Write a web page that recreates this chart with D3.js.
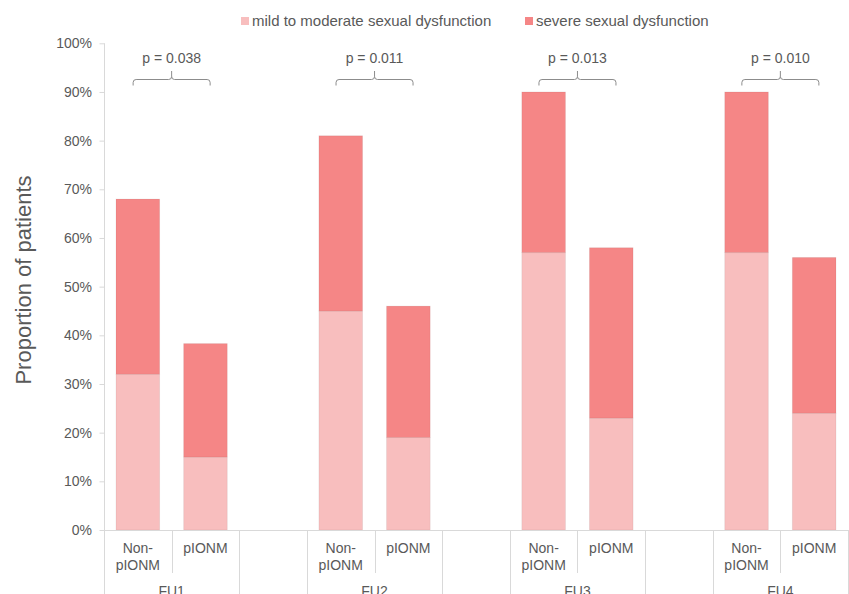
<!DOCTYPE html>
<html>
<head>
<meta charset="utf-8">
<script src="https://cdn.jsdelivr.net/npm/d3@7"></script>
<style>
  html, body { margin: 0; padding: 0; background: #fff; }
  svg { display: block; font-family: "Liberation Sans", Arial, sans-serif; }
</style>
</head>
<body>
<svg id="chart" width="849" height="594"></svg>
<script>
// ---- data ----
const groups = ["FU1", "FU2", "FU3", "FU4"];
const arms = ["Non-pIONM", "pIONM"];
const armLabelLines = [["Non-", "pIONM"], ["pIONM"]];
const mildValues   = [32, 15, 45, 19, 57, 23, 57, 24];   // mild to moderate (%)
const severeValues = [36, 23.3, 36, 27, 33, 35, 33, 32]; // severe (%)
const pValues = ["p = 0.038", "p = 0.011", "p = 0.013", "p = 0.010"];
const seriesNames = ["mild to moderate sexual dysfunction", "severe sexual dysfunction"];
const yTicks = [0, 10, 20, 30, 40, 50, 60, 70, 80, 90, 100];

// ---- styles ----
const colors = ["#F8BEBE", "#F58686"];
const textColor = "#595959";
const axisColor = "#D9D9D9";

const svg = d3.select("#chart");

// slots: group categories, with an empty slot between groups
const slots = [];
groups.forEach((g, gi) => {
  arms.forEach((a, ai) => slots.push({ key: g + "|" + a, group: g, gi, ai }));
  if (gi < groups.length - 1) slots.push({ key: "gap" + gi, group: null, gi, ai: -1 });
});

const x = d3.scaleBand().domain(slots.map(s => s.key)).range([104, 848]).padding(0);
const y = d3.scaleLinear().domain([0, 100]).range([530, 43.3]);
const barW = x.bandwidth() * 0.645;

// rows of data
const rows = [];
groups.forEach((g, gi) => arms.forEach((a, ai) => {
  const i = gi * arms.length + ai;
  rows.push({ key: g + "|" + a, group: g, arm: a, mild: mildValues[i], severe: severeValues[i] });
}));
const stacked = d3.stack().keys(["mild", "severe"])(rows);

// bars
stacked.forEach((layer, li) => {
  svg.append("g").selectAll("rect").data(layer).join("rect")
    .attr("x", d => x(d.data.key) + (x.bandwidth() - barW) / 2)
    .attr("width", barW)
    .attr("y", d => y(d[1]))
    .attr("height", d => y(d[0]) - y(d[1]))
    .attr("fill", colors[li])
    .attr("stroke", "rgba(0,0,0,0.06)")
    .attr("stroke-width", 1);
});

// y axis
const yAxis = svg.append("g").attr("transform", "translate(104,0)")
  .call(d3.axisLeft(y).tickValues(yTicks).tickFormat(d => d + "%").tickSize(5).tickPadding(7));
yAxis.select(".domain").attr("stroke", axisColor).attr("d", "M0.5," + y(100) + "V594");
yAxis.selectAll(".tick line").attr("stroke", axisColor).attr("x1", 0.5).attr("x2", -4.5);
yAxis.selectAll(".tick text").attr("fill", textColor).style("font-size", "14px")
  .style("font-family", "'Liberation Sans', Arial, sans-serif");

// x axis baseline
svg.append("line").attr("x1", 104).attr("x2", 849).attr("y1", 530.5).attr("y2", 530.5)
  .attr("stroke", axisColor);

// separators
const bounds = [];
for (let k = 1; k <= slots.length; k++) {
  const left = slots[k - 1], right = slots[k];
  const xx = k < slots.length ? x(right.key) : x(left.key) + x.bandwidth();
  const short = right && left.group && right.group && left.group === right.group;
  bounds.push({ x: xx, short });
}
svg.append("g").selectAll("line").data(bounds).join("line")
  .attr("x1", d => Math.round(d.x) + 0.5).attr("x2", d => Math.round(d.x) + 0.5)
  .attr("y1", 530).attr("y2", d => d.short ? 573 : 594)
  .attr("stroke", axisColor);

// category labels
const catG = svg.append("g").attr("fill", textColor).style("font-size", "14px").attr("text-anchor", "middle");
slots.filter(s => s.group).forEach(s => {
  const t = catG.append("text").attr("x", x(s.key) + x.bandwidth() / 2).attr("y", 552.5);
  armLabelLines[s.ai].forEach((line, li) => {
    t.append("tspan").attr("x", x(s.key) + x.bandwidth() / 2).attr("dy", li === 0 ? 0 : 17).text(line);
  });
});

// group labels
groups.forEach(g => {
  const x0 = x(g + "|" + arms[0]);
  const x1 = x(g + "|" + arms[arms.length - 1]) + x.bandwidth();
  catG.append("text").attr("x", (x0 + x1) / 2).attr("y", 596).text(g);
});

// p-value brackets
const brG = svg.append("g");
groups.forEach((g, gi) => {
  const cx = x(g + "|" + arms[1]);
  const half = 38.5;
  const yh = 79.5, yEnd = 85.5, yTop = 71, r = 3;
  const path = [
    "M", cx - half, yEnd,
    "V", yh + r,
    "Q", cx - half, yh, cx - half + r, yh,
    "H", cx - r,
    "Q", cx, yh, cx, yh - r,
    "V", yTop,
    "M", cx, yh - r,
    "Q", cx, yh, cx + r, yh,
    "H", cx + half - r,
    "Q", cx + half, yh, cx + half, yh + r,
    "V", yEnd
  ].join(" ");
  brG.append("path").attr("d", path).attr("fill", "none").attr("stroke", "#8C8C8C").attr("stroke-width", 1);
  brG.append("text").attr("x", cx).attr("y", 63).attr("text-anchor", "middle")
    .attr("fill", textColor).style("font-size", "14px").text(pValues[gi]);
});

// legend
const legendPos = [241, 525];
seriesNames.forEach((name, i) => {
  svg.append("rect").attr("x", legendPos[i]).attr("y", 17).attr("width", 8).attr("height", 8).attr("fill", colors[i]);
  svg.append("text").attr("x", legendPos[i] + 11).attr("y", 26).attr("fill", textColor)
    .style("font-size", "15px").text(name);
});

// y axis title
svg.append("text").attr("transform", "translate(31,280) rotate(-90)")
  .attr("text-anchor", "middle").attr("fill", textColor).style("font-size", "22px")
  .text("Proportion of patients");
</script>
</body>
</html>
